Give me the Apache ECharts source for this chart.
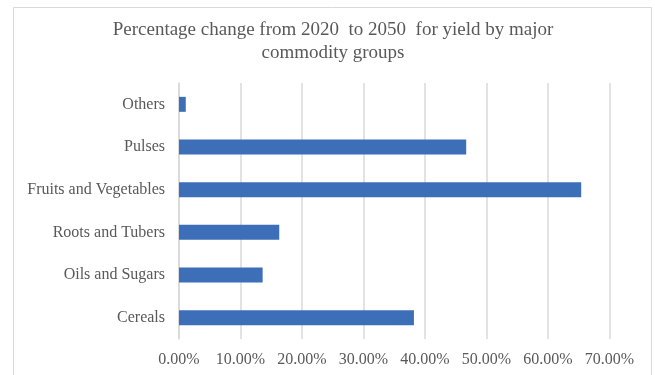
<!DOCTYPE html>
<html>
<head>
<meta charset="utf-8">
<script src="https://cdn.jsdelivr.net/npm/echarts@6/dist/echarts.min.js"></script>
<style>html,body{margin:0;padding:0;background:#fff;}#c{width:655px;height:375px;}</style>
</head>
<body>
<div id="c"></div>
<script>
var categories = ["Cereals", "Oils and Sugars", "Roots and Tubers", "Fruits and Vegetables", "Pulses", "Others"];
var values = [0.382, 0.136, 0.163, 0.654, 0.467, 0.011];
var xTicks = [0, 0.1, 0.2, 0.3, 0.4, 0.5, 0.6, 0.7];
var titleText = "Percentage change from 2020  to 2050  for yield by major\ncommodity groups";

var serif = '"Liberation Serif", "Times New Roman", serif';
var chart = echarts.init(document.getElementById('c'), null, {renderer: 'canvas'});
chart.setOption({
  animation: false,
  backgroundColor: '#ffffff',
  title: {
    text: titleText,
    left: 328,
    textAlign: 'center',
    top: 14,
    textStyle: {fontFamily: serif, fontSize: 19, fontWeight: 'normal', color: '#595959', lineHeight: 23}
  },
  graphic: [{
    type: 'rect', silent: true,
    shape: {x: 13.5, y: 7.5, width: 638, height: 380},
    style: {fill: 'none', stroke: '#d9d9d9', lineWidth: 1}
  }],
  grid: {left: 179, right: 45.5, top: 83, bottom: 36, containLabel: false},
  xAxis: {
    type: 'value',
    min: xTicks[0],
    max: xTicks[xTicks.length - 1],
    interval: 0.1,
    axisLine: {show: false},
    axisTick: {show: false},
    splitLine: {show: true, lineStyle: {color: '#d9d9d9', width: 1.5}},
    axisLabel: {
      margin: 13,
      fontFamily: serif, fontSize: 16, color: '#595959',
      formatter: function (v) { return (v * 100).toFixed(2) + '%'; }
    }
  },
  yAxis: {
    type: 'category',
    data: categories,
    axisLine: {show: true, lineStyle: {color: '#d9d9d9', width: 1.5}},
    axisTick: {show: false},
    axisLabel: {margin: 14, fontFamily: serif, fontSize: 16, color: '#595959'}
  },
  series: [{
    type: 'bar',
    data: values,
    barWidth: 15,
    itemStyle: {color: '#3D6FB9'}
  }]
});
</script>
</body>
</html>
